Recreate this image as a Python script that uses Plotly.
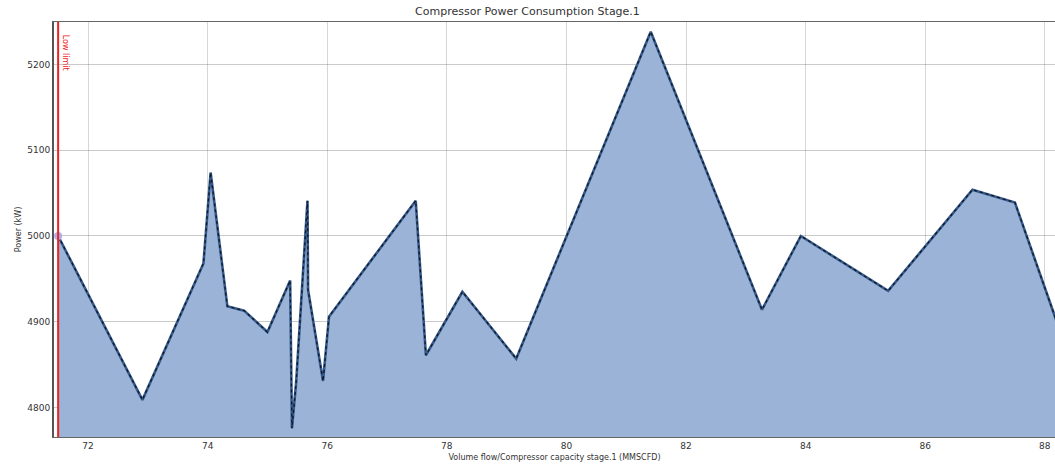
import plotly.graph_objects as go

# Volume flow (MMSCFD) vs compressor power (kW), stage 1
flow = [71.50, 72.91, 73.93, 74.05, 74.33, 74.61, 75.00, 75.38, 75.41, 75.48,
        75.67, 75.68, 75.93, 76.03, 77.48, 77.65, 78.26, 79.16, 81.41, 83.27,
        83.92, 85.38, 86.79, 87.50, 88.30]
power = [5000, 4809, 4968, 5074, 4918, 4913, 4888, 4948, 4776, 4829,
         5041, 4937, 4831, 4906, 5041, 4861, 4935, 4857, 5238, 4914,
         5000, 4936, 5054, 5039, 4880]

low_limit = 71.50
x_ticks = [72, 74, 76, 78, 80, 82, 84, 86, 88]
y_ticks = [4800, 4900, 5000, 5100, 5200]

FONT = "DejaVu Sans"

fig = go.Figure()

# filled area under the curve
fig.add_trace(go.Scatter(
    x=flow, y=power, mode="lines", fill="tozeroy",
    fillcolor="#9ab3d6", line=dict(color="#36598a", width=2.6),
    hoverinfo="skip", showlegend=False,
))
# dotted dark overlay on the outline
fig.add_trace(go.Scatter(
    x=flow, y=power, mode="lines",
    line=dict(color="#0d1a2a", width=1.3, dash="dot"),
    hoverinfo="skip", showlegend=False,
))
# starting point marker
fig.add_trace(go.Scatter(
    x=[flow[0]], y=[power[0]], mode="markers",
    marker=dict(color="#b3aee6", size=8),
    hoverinfo="skip", showlegend=False,
))

# low limit line
fig.add_shape(type="line", xref="x", yref="paper", x0=low_limit, x1=low_limit,
              y0=0, y1=1, line=dict(color="#ee2222", width=2))
fig.add_annotation(x=low_limit, y=5214, xref="x", yref="y", text="Low limit",
                   textangle=90, showarrow=False, xanchor="left", xshift=1,
                   font=dict(family=FONT, size=8, color="#ee2222"))

fig.update_layout(
    width=1055, height=466,
    margin=dict(l=54, r=0, t=22, b=29),
    paper_bgcolor="white", plot_bgcolor="white",
    title=dict(text="Compressor Power Consumption Stage.1", x=0.5, xanchor="center",
               y=0.985, yanchor="top",
               font=dict(family=FONT, size=11, color="#333333")),
    font=dict(family=FONT, size=9, color="#333333"),
)
fig.update_xaxes(
    range=[71.431, 88.17], tickvals=x_ticks, ticktext=[str(v) for v in x_ticks],
    showgrid=True, gridcolor="rgba(90,90,90,0.25)", gridwidth=1,
    layer="above traces", zeroline=False,
    showline=True, linecolor="#666666", linewidth=1, mirror=True,
    ticks="", tickfont=dict(family=FONT, size=9, color="#333333"),
    title=dict(text="Volume flow/Compressor capacity stage.1 (MMSCFD)", standoff=4,
               font=dict(family=FONT, size=8, color="#333333")),
)
fig.update_yaxes(
    range=[4765.7, 5249.4], tickvals=y_ticks, ticktext=[str(v) for v in y_ticks],
    showgrid=True, gridcolor="rgba(90,90,90,0.32)", gridwidth=1,
    layer="above traces", zeroline=False,
    showline=True, linecolor="#555555", linewidth=2,
    ticks="", tickfont=dict(family=FONT, size=9, color="#333333"),
    title=dict(text="Power (kW)", standoff=4,
               font=dict(family=FONT, size=8, color="#333333")),
)

fig.write_html("out.html")
